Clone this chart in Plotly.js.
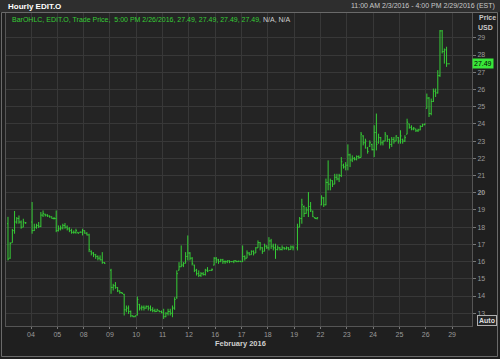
<!DOCTYPE html>
<html><head><meta charset="utf-8">
<script src="https://cdn.plot.ly/plotly-3.0.1.min.js"></script>
<style>html,body{margin:0;padding:0;background:#1f1f1f;}#chart{width:500px;height:359px;}</style>
</head><body><div id="chart"></div>
<script>
// Trading days shown on the x axis (Feb 2016)
const dayLabels = ['03','04','05','08','09','10','11','12','16','17','18','19','22','23','24','25','26','29'];
// first hourly slot used and number of hourly bars per day
const firstSlot  = [1,0,0,0,0,0,0,0,0,0,0,1,0,0,0,0,0,0];
const barsPerDay = [9,12,12,10,12,12,12,12,12,12,12,10,12,12,12,12,11,0];
const slotsPerDay = 12;

// Hourly OHLC values (one row per day)
const openP = [
 18.2,16.2,17.1,17.8,18.3,18.5,18.3,18.0,18.25,
 18.3,17.8,18.0,18.1,18.05,18.7,18.75,18.7,18.65,18.6,18.5,18.5,
 17.8,17.9,17.95,18.1,18.0,17.9,17.8,17.7,17.7,17.7,17.7,17.7,
 17.8,17.65,17.55,16.6,16.5,16.4,16.3,16.2,16.1,15.95,
 15.5,14.5,14.6,14.5,14.3,14.2,14.1,13.2,13.3,13.1,12.85,12.8,
 12.9,13.5,13.3,13.35,13.3,13.4,13.3,13.2,13.15,13.1,13.15,13.1,
 13.0,12.8,13.0,13.1,13.0,13.3,13.9,15.5,15.7,15.8,15.9,16.3,
 16.5,16.2,15.8,15.5,15.3,15.2,15.3,15.25,15.5,15.49,15.5,15.8,
 16.2,16.1,16.0,16.1,16.0,16.0,16.05,16.0,16.0,16.05,16.0,16.02,
 16.0,16.3,16.2,16.5,16.4,16.6,16.5,16.8,17.1,16.8,16.6,16.9,
 16.8,17.2,16.9,16.8,16.7,16.8,16.7,16.8,16.75,16.8,16.7,16.85,
 16.8,18.0,18.5,19.2,18.8,19.0,19.2,18.9,18.55,18.5,
 19.3,19.7,19.3,20.6,20.5,20.7,20.5,20.9,20.8,21.0,21.6,21.5,
 21.6,22.2,21.9,22.0,21.95,22.1,22.05,23.3,22.9,22.6,22.7,22.8,
 22.5,23.5,22.9,23.2,22.9,23.0,23.3,23.1,22.8,23.1,23.0,23.2,
 23.0,23.1,23.0,23.4,24.0,23.8,23.7,23.7,23.6,23.65,23.85,23.95,
 24.9,25.5,24.6,25.3,25.9,25.8,26.8,29.4,28.2,28.3,27.49
];
const highP = [
 18.6,17.13,17.9,18.94,18.59,18.68,18.39,18.49,18.3,
 19.46,18.2,18.2,18.3,18.88,18.97,18.78,18.75,18.68,18.62,18.59,18.97,
 18.1,18.1,18.2,18.24,18.1,18.0,17.91,17.81,17.91,17.71,17.74,17.91,
 17.81,17.71,17.62,16.65,16.55,16.45,16.36,16.36,16.55,15.97,
 15.58,14.71,14.81,14.52,14.32,14.23,14.13,13.45,13.45,13.16,12.87,12.87,
 13.97,13.55,13.45,13.45,13.45,13.45,13.45,13.35,13.26,13.26,13.16,13.16,
 13.26,13.06,13.26,13.26,13.45,13.93,15.49,15.97,16.94,15.97,16.55,17.52,
 16.55,16.26,15.82,15.58,15.49,15.39,15.39,15.58,15.68,15.5,15.6,16.26,
 16.26,16.16,16.16,16.16,16.07,16.07,16.07,16.03,16.07,16.07,16.06,16.05,
 16.94,16.36,16.65,16.55,16.65,16.65,16.84,17.23,17.13,16.84,17.04,16.95,
 17.42,17.32,17.04,17.04,16.94,16.84,16.94,16.84,16.88,16.84,16.94,16.94,
 18.2,18.59,19.65,19.26,19.17,20.04,19.46,18.97,18.59,18.59,
 19.85,19.75,20.82,21.88,20.82,20.72,21.1,21.1,21.1,22.07,21.69,21.78,
 22.81,22.27,22.17,22.07,22.17,22.17,23.53,23.34,23.14,22.66,23.04,22.85,
 23.92,24.6,23.43,23.24,23.04,23.53,23.34,23.14,23.24,23.24,23.34,23.24,
 23.63,23.14,23.34,24.3,24.01,23.92,23.82,23.72,23.72,23.92,24.01,24.01,
 25.76,25.56,25.47,26.05,26.05,27.12,29.45,29.45,28.38,28.48,27.49
];
const lowP = [
 16.07,16.16,17.1,17.62,18.2,18.2,17.91,18.0,18.2,
 17.62,17.78,17.91,17.95,18.0,18.59,18.62,18.59,18.55,18.49,18.45,17.71,
 17.75,17.81,17.87,17.91,17.81,17.71,17.62,17.62,17.62,17.62,17.68,17.52,
 17.62,17.52,16.55,16.36,16.26,16.16,16.07,16.07,15.87,15.87,
 14.13,14.32,14.42,14.23,14.13,14.13,12.87,13.06,12.96,12.77,12.77,12.77,
 12.87,13.16,13.16,13.16,13.26,13.16,13.12,13.06,13.06,13.1,13.06,13.0,
 12.67,12.77,12.87,12.87,12.77,13.2,13.84,15.49,15.68,15.68,15.9,16.07,
 16.07,15.78,15.39,15.19,15.1,15.1,15.19,15.19,15.39,15.48,15.45,15.78,
 15.91,15.87,15.97,15.87,15.87,15.91,15.91,15.97,15.91,15.97,15.97,15.97,
 15.97,16.06,16.2,16.36,16.4,16.36,16.5,16.8,16.65,16.45,16.6,16.74,
 16.65,16.74,16.65,16.16,16.65,16.65,16.65,16.69,16.69,16.65,16.7,16.65,
 16.65,18.0,18.2,18.59,18.78,18.59,18.88,18.59,18.49,18.45,
 19.27,19.17,19.27,20.14,20.14,20.33,20.5,20.72,20.62,20.91,21.4,21.3,
 21.3,21.49,21.78,21.88,21.88,21.97,22.05,22.75,22.56,22.27,22.66,22.46,
 22.07,22.46,22.85,22.75,22.75,23.0,22.95,22.56,22.66,22.85,23.0,22.85,
 22.85,22.85,22.95,23.4,23.72,23.63,23.63,23.53,23.53,23.63,23.82,23.92,
 24.89,24.4,24.5,25.27,25.56,25.76,26.73,28.09,27.5,27.31,27.49
];
const closeP = [
 16.15,17.05,17.8,18.3,18.5,18.3,18.0,18.3,18.25,
 17.8,18.0,18.1,18.05,18.7,18.8,18.7,18.65,18.6,18.5,18.5,17.8,
 17.9,17.95,18.1,18.0,17.9,17.8,17.7,17.7,17.8,17.65,17.72,17.8,
 17.65,17.55,16.7,16.5,16.4,16.3,16.2,16.1,15.95,15.9,
 14.5,14.6,14.5,14.3,14.2,14.15,13.2,13.3,13.1,12.85,12.8,12.85,
 13.8,13.3,13.35,13.3,13.4,13.3,13.2,13.15,13.1,13.2,13.1,13.05,
 12.8,13.0,13.1,13.0,13.3,13.8,15.3,15.7,15.8,15.9,16.3,16.5,
 16.2,15.9,15.5,15.3,15.2,15.3,15.25,15.5,15.45,15.49,15.55,16.2,
 16.1,16.0,16.1,16.0,16.0,16.05,16.0,16.0,16.05,16.0,16.02,16.0,
 16.3,16.2,16.5,16.4,16.6,16.5,16.8,17.1,16.8,16.6,16.9,16.8,
 17.2,16.9,16.8,16.7,16.8,16.7,16.8,16.75,16.8,16.7,16.85,16.8,
 18.0,18.5,19.3,18.8,19.0,19.2,19.0,18.6,18.5,18.55,
 19.7,19.3,20.6,20.5,20.7,20.5,20.9,20.8,21.0,21.8,21.5,21.6,
 22.2,21.9,22.0,21.95,22.1,22.05,23.4,22.9,23.0,22.4,22.9,22.5,
 23.5,22.8,23.2,22.9,23.0,23.4,23.1,22.8,23.1,23.0,23.3,23.0,
 23.3,23.0,23.2,24.1,23.8,23.7,23.75,23.6,23.65,23.85,23.95,24.0,
 25.5,24.6,25.3,25.9,25.8,26.8,29.4,28.2,28.3,27.49,27.49
];
const yTicks = [13,14,15,16,17,18,19,20,21,22,23,24,25,26,27,28,29];

// ---- build x positions (hour slot index) ----
const xs = [];
dayLabels.forEach((d, i) => {
  for (let k = 0; k < barsPerDay[i]; k++) xs.push(i * slotsPerDay + firstSlot[i] + k + 0.5);
});
const tickVals = dayLabels.slice(1).map((d, i) => (i + 1) * slotsPerDay);
const tickText = dayLabels.slice(1);

const G = '#36cc36';
const n = closeP.length;
const lastO = openP[n-1], lastH = highP[n-1], lastL = lowP[n-1], lastC = closeP[n-1];

const W = 500, H = 359, L = 6, R = 28, T = 13, B = 33;
const pw = W - L - R, ph = H - T - B;
const px = v => (v - L) / pw;
const py = v => (H - B - v) / ph;

const trace = {
  type: 'ohlc', x: xs, open: openP, high: highP, low: lowP, close: closeP,
  increasing: {line: {color: G, width: 1}},
  decreasing: {line: {color: G, width: 1}},
  tickwidth: 0.45, hoverinfo: 'none', showlegend: false
};

const font = 'Liberation Sans, Arial, sans-serif';
const layout = {
  width: W, height: H,
  margin: {l: L, r: R, t: T, b: B, pad: 0},
  paper_bgcolor: '#1f1f1f', plot_bgcolor: '#242424',
  font: {family: font, size: 7, color: '#9a9a9a'},
  showlegend: false,
  xaxis: {
    type: 'linear', range: [0.6, 213.1], rangeslider: {visible: false},
    tickmode: 'array', tickvals: tickVals, ticktext: tickText,
    ticks: 'outside', ticklen: 2, tickcolor: '#777', tickfont: {size: 7, color: '#9a9a9a'},
    showgrid: true, gridcolor: '#383838', gridwidth: 1,
    showline: true, linecolor: '#555', mirror: true, zeroline: false, fixedrange: true
  },
  yaxis: {
    side: 'right', range: [12.26, 30.44],
    tickmode: 'array', tickvals: yTicks,
    ticktext: yTicks.map(v => v === 20 ? '<b>' + v + '</b>' : String(v)),
    ticks: 'outside', ticklen: 3, tickcolor: '#777', tickfont: {size: 7, color: '#9a9a9a'},
    showgrid: true, gridcolor: '#383838', gridwidth: 1,
    showline: true, linecolor: '#555', mirror: true, zeroline: false, fixedrange: true
  },
  shapes: [
    {type: 'rect', xref: 'paper', yref: 'paper', x0: px(0), x1: px(500), y0: py(12), y1: py(0),
     fillcolor: '#2e2e2e', line: {width: 0}, layer: 'below'},
    {type: 'rect', xref: 'paper', yref: 'paper', x0: px(1.5), x1: px(497.5), y0: py(356.5), y1: py(12.5),
     fillcolor: 'rgba(0,0,0,0)', line: {color: '#6a6a6a', width: 1}}
  ],
  annotations: [
    {xref: 'paper', yref: 'paper', x: px(6), y: py(6), xanchor: 'left', yanchor: 'middle', showarrow: false,
     text: '<b>Hourly EDIT.O</b>', font: {size: 8, color: '#ffffff', family: font}},
    {xref: 'paper', yref: 'paper', x: px(497), y: py(6), xanchor: 'right', yanchor: 'middle', showarrow: false,
     text: '11:00 AM 2/3/2016 - 4:00 PM 2/29/2016 (EST)', font: {size: 7, color: '#c8c8c8', family: font}},
    {xref: 'paper', yref: 'paper', x: px(10), y: py(19), xanchor: 'left', yanchor: 'middle', showarrow: false,
     text: '<span style="color:' + G + '">BarOHLC, EDIT.O, Trade Price,  5:00 PM 2/26/2016, ' +
       [lastO, lastH, lastL, lastC].map(v => v.toFixed(2)).join(', ') + ',</span> N/A, N/A',
     font: {size: 7, color: '#d0d0d0', family: font}},
    {xref: 'paper', yref: 'paper', x: px(487), y: py(17), xanchor: 'center', yanchor: 'middle', showarrow: false,
     text: '<b>Price</b>', font: {size: 7, color: '#c8c8c8', family: font}},
    {xref: 'paper', yref: 'paper', x: px(485), y: py(27), xanchor: 'center', yanchor: 'middle', showarrow: false,
     text: '<b>USD</b>', font: {size: 7, color: '#c8c8c8', family: font}},
    {xref: 'paper', yref: 'y', x: 1, y: lastC, xanchor: 'left', yanchor: 'middle', showarrow: false,
     text: lastC.toFixed(2), bgcolor: '#39e639', borderpad: 1, font: {size: 7, color: '#000', family: font}},
    {xref: 'paper', yref: 'paper', x: px(487), y: py(320), xanchor: 'center', yanchor: 'middle', showarrow: false,
     text: '<b>Auto</b>', bgcolor: '#262626', bordercolor: '#b0b0b0', borderwidth: 1, borderpad: 1,
     font: {size: 7, color: '#dddddd', family: font}},
    {xref: 'paper', yref: 'paper', x: px(240), y: py(343), xanchor: 'center', yanchor: 'middle', showarrow: false,
     text: '<b>February 2016</b>', font: {size: 7.5, color: '#cfcfcf', family: font}}
  ]
};

Plotly.newPlot('chart', [trace], layout, {staticPlot: true, displayModeBar: false});
</script>
</body></html>
